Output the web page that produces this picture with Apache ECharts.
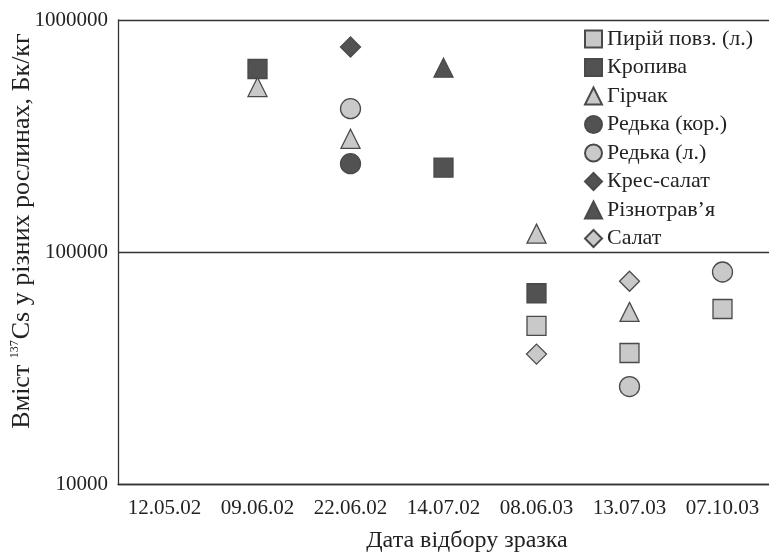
<!DOCTYPE html>
<html>
<head>
<meta charset="utf-8">
<script src="https://cdn.jsdelivr.net/npm/echarts@6/dist/echarts.min.js"></script>
<style>html,body{margin:0;padding:0;background:#fff}#c{width:769px;height:552px}</style>
</head>
<body>
<div id="c"></div>
<script>
const categories = ['12.05.02','09.06.02','22.06.02','14.07.02','08.06.03','13.07.03','07.10.03'];
const yTicks = [10000, 100000, 1000000];
// [categoryIndex, value]
const pyrii = [[4, 48000], [5, 36700], [6, 56800]];
const kropyva = [[1, 615000], [3, 231000], [4, 66400]];
const hirchak = [[1, 514000], [2, 307500], [4, 120000], [5, 55200]];
const redkaKor = [[2, 240300]];
const redkaL = [[2, 414700], [5, 26300], [6, 82000]];
const kresSalat = [[2, 765000]];
const riznotravia = [[3, 623000]];
const salat = [[4, 36300], [5, 74800]];

const DARK = '#525252', LIGHT = '#c9c9c9', EDGE = '#4a4a4a';
const FONT = 'Liberation Serif';

function s(name, data, symbol, fill, size) {
  return {
    name, type: 'scatter', data, symbol, symbolSize: size || 19,
    itemStyle: { color: fill, borderColor: EDGE, borderWidth: 1.3, opacity: 1 },
    emphasis: { disabled: true }
  };
}

const chart = echarts.init(document.getElementById('c'), null, { renderer: 'canvas' });
chart.setOption({
  animation: false,
  textStyle: { fontFamily: FONT },
  grid: { left: 118, top: 20, right: -2, bottom: 68, containLabel: false },
  legend: {
    orient: 'vertical', left: 579, top: 23, itemWidth: 17, itemHeight: 17, itemGap: 6.5,
    textStyle: { fontFamily: FONT, fontSize: 22, color: '#222' },
    data: ['Пирій повз. (л.)','Кропива','Гірчак','Редька (кор.)','Редька (л.)','Крес-салат','Різнотрав’я','Салат']
  },
  xAxis: [
    {
      type: 'category', data: categories, boundaryGap: true,
      axisLine: { lineStyle: { color: '#333', width: 1.3 } },
      axisTick: { alignWithLabel: true, inside: true, length: 5, lineStyle: { color: '#333', width: 1.2 } },
      axisLabel: { interval: 0, hideOverlap: false, fontFamily: FONT, fontSize: 21, color: '#222', margin: 14 },
      splitLine: { show: false }
    },
    {
      type: 'category', data: categories, boundaryGap: true, position: 'bottom',
      axisLine: { show: false },
      axisTick: { interval: 0, inside: true, length: 5, lineStyle: { color: '#333', width: 1.2 } },
      axisLabel: { show: false },
      splitLine: { show: false }
    }
  ],
  yAxis: {
    type: 'log', logBase: 10, min: yTicks[0], max: yTicks[yTicks.length - 1],
    axisLine: { show: true, lineStyle: { color: '#333', width: 1.3 } },
    axisTick: { show: false },
    minorTick: { show: false },
    axisLabel: { fontFamily: FONT, fontSize: 21, color: '#222', margin: 10, formatter: v => String(Math.round(v)) },
    splitLine: { show: true, lineStyle: { color: '#333', width: 1.3 } }
  },
  graphic: [
    {
      type: 'text', x: 22, y: 231, rotation: Math.PI / 2,
      style: {
        text: '{m|Вміст }{s|137}{m|Cs у різних рослинах, Бк/кг}',
        align: 'center', verticalAlign: 'middle', textAlign: 'center', textVerticalAlign: 'middle',
        fill: '#222',
        rich: {
          m: { fontFamily: FONT, fontSize: 26, lineHeight: 27, verticalAlign: 'middle' },
          s: { fontFamily: FONT, fontSize: 12, lineHeight: 27, verticalAlign: 'top', padding: [0, 1, 0, 0] }
        }
      }
    },
    {
      type: 'text', x: 467, y: 541,
      style: {
        text: 'Дата відбору зразка', font: '24px "' + FONT + '"', fill: '#222',
        align: 'center', verticalAlign: 'middle', textAlign: 'center', textVerticalAlign: 'middle'
      }
    }
  ],
  series: [
    s('Пирій повз. (л.)', pyrii, 'rect', LIGHT),
    s('Кропива', kropyva, 'rect', DARK),
    s('Гірчак', hirchak, 'triangle', LIGHT),
    s('Редька (кор.)', redkaKor, 'circle', DARK, 20),
    s('Редька (л.)', redkaL, 'circle', LIGHT, 20),
    s('Крес-салат', kresSalat, 'diamond', DARK, 20),
    s('Різнотрав’я', riznotravia, 'triangle', DARK),
    s('Салат', salat, 'diamond', LIGHT, 20)
  ]
});
</script>
</body>
</html>
